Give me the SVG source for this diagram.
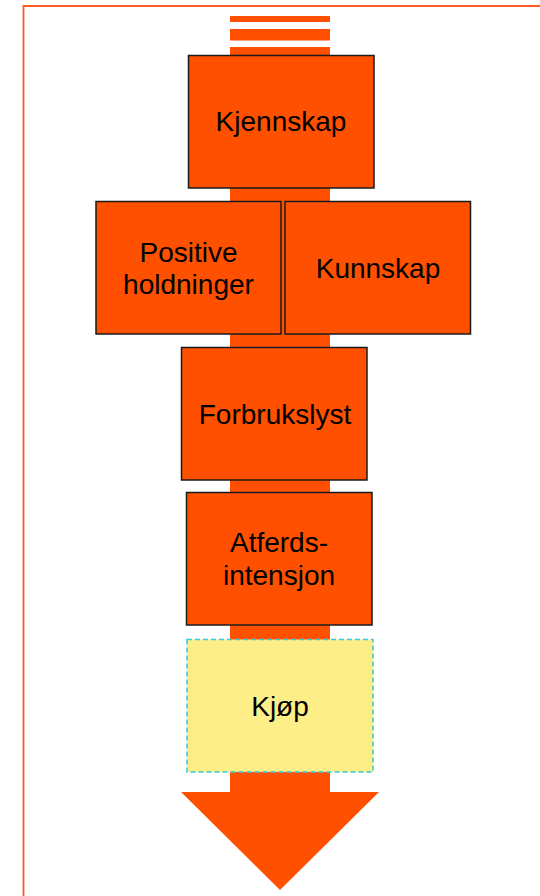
<svg xmlns="http://www.w3.org/2000/svg" width="540" height="896" viewBox="0 0 540 896">
<style>
.box{fill:#FF5000;stroke:#1a1a1a;stroke-width:1.5}
.buy{fill:#FDEE88;stroke:#33CCDD;stroke-width:1.5;stroke-dasharray:5 3}
.arrow{fill:#FF5000}
text{font-family:"Liberation Sans",Arial,sans-serif;font-size:28px;fill:#000;text-anchor:middle}
</style>
<rect x="0" y="0" width="540" height="896" fill="#fff"/>
<path d="M23.5 896 V6 H540" fill="none" stroke="#FF5A28" stroke-width="1.8"/>
<g id="connectors">
<rect class="arrow" x="230" y="16" width="100" height="6"/>
<rect class="arrow" x="230" y="29" width="100" height="11.5"/>
<rect class="arrow" x="230" y="47" width="100" height="745"/>
<polygon class="arrow" points="181,792 379,792 280,890"/>
</g>
<g id="kjennskap"><rect class="box" x="188.5" y="55.5" width="185.5" height="132.5"/><text x="281" y="131">Kjennskap</text></g>
<g id="positive"><rect class="box" x="96" y="201.5" width="185" height="132.5"/><text x="188.5" y="262">Positive</text><text x="188.5" y="294">holdninger</text></g>
<g id="kunnskap"><rect class="box" x="285" y="201.5" width="185.5" height="132.5"/><text x="378" y="278">Kunnskap</text></g>
<g id="forbrukslyst"><rect class="box" x="181.5" y="347.5" width="185.5" height="132.5"/><text x="275" y="424">Forbrukslyst</text></g>
<g id="atferd"><rect class="box" x="186.5" y="492.5" width="185.5" height="132.5"/><text x="279" y="552">Atferds-</text><text x="279" y="585">intensjon</text></g>
<g id="kjop"><rect class="buy" x="187" y="639.5" width="186" height="132.5"/><text x="280" y="716">Kjøp</text></g>
</svg>
